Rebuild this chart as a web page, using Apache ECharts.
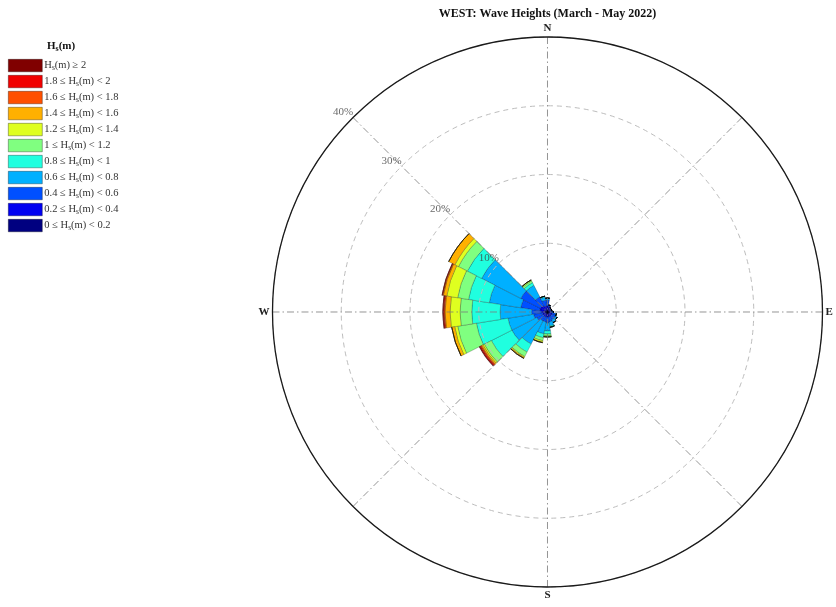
<!DOCTYPE html>
<html>
<head>
<meta charset="utf-8">
<script src="https://cdn.jsdelivr.net/npm/echarts@6/dist/echarts.min.js"></script>
<style>
  html, body { margin: 0; padding: 0; background: #fff; }
  #chart { width: 836px; height: 607px; }
</style>
</head>
<body>
<div id="chart"></div>
<script>
// Direction sectors (degrees, clockwise from north), 18° wide
const directions = [0, 18, 36, 54, 72, 90, 108, 126, 144, 162, 180, 198, 216, 234, 252, 270, 288, 306, 324, 342];

// Wave height classes, lowest first
const binNames = [
  '0 ≤ Hs(m) < 0.2',
  '0.2 ≤ Hs(m) < 0.4',
  '0.4 ≤ Hs(m) < 0.6',
  '0.6 ≤ Hs(m) < 0.8',
  '0.8 ≤ Hs(m) < 1',
  '1 ≤ Hs(m) < 1.2',
  '1.2 ≤ Hs(m) < 1.4',
  '1.4 ≤ Hs(m) < 1.6',
  '1.6 ≤ Hs(m) < 1.8',
  '1.8 ≤ Hs(m) < 2',
  'Hs(m) ≥ 2'
];
const binColors = ['#000080', '#0000F0', '#0050FF', '#00B0FF', '#20FFDF', '#80FF80', '#DFFF20', '#FFB000', '#FF5000', '#F00000', '#800000'];

// Frequency (% of records) per direction for each height class
const hs00_02 = [0.29, 0.29, 0.29, 0.22, 0.22, 0.29, 0.29, 0.29, 0.29, 0.29, 0.29, 0.29, 0.29, 0.29, 0.29, 0.29, 0.44, 0.29, 0.29, 0.29];
const hs02_04 = [0.58, 0.44, 0.29, 0.29, 0.29, 0.29, 0.44, 0.44, 0.44, 0.44, 0.44, 0.44, 0.44, 0.44, 0.44, 0.58, 0.73, 0.87, 0.73, 0.58];
const hs04_06 = [0.87, 0.29, 0.15, 0.15, 0.15, 0.29, 0.44, 0.58, 0.58, 0.73, 0.87, 0.73, 0.73, 1.02, 1.31, 1.45, 2.76, 3.20, 1.45, 0.87];
const hs06_08 = [0.29, 0, 0, 0, 0, 0, 0.15, 0.29, 0.44, 0.58, 1.16, 1.75, 3.78, 4.07, 3.78, 4.58, 4.65, 6.40, 1.89, 0.44];
const hs08_10 = [0, 0, 0, 0, 0, 0, 0, 0, 0, 0.15, 0.44, 0.58, 1.31, 3.35, 4.65, 4.12, 3.05, 2.33, 0.44, 0.15];
const hs10_12 = [0, 0, 0, 0, 0, 0, 0, 0, 0, 0.07, 0.29, 0.44, 0.73, 1.16, 2.76, 1.70, 1.60, 1.45, 0.29, 0];
const hs12_14 = [0, 0, 0, 0, 0, 0, 0, 0, 0, 0, 0.15, 0.22, 0.15, 0.22, 0.44, 1.45, 1.60, 0.58, 0.15, 0];
const hs14_16 = [0, 0, 0, 0, 0, 0, 0, 0, 0, 0, 0, 0.07, 0.15, 0.22, 0.44, 0.73, 0.51, 1.02, 0, 0];
const hs16_18 = [0, 0, 0, 0, 0, 0, 0, 0, 0, 0, 0, 0, 0, 0.15, 0, 0.15, 0.12, 0, 0, 0];
const hs18_20 = [0, 0, 0, 0, 0, 0, 0, 0, 0, 0, 0, 0, 0, 0.15, 0, 0.12, 0.07, 0, 0, 0];
const hs20_up = [0, 0, 0, 0, 0, 0, 0, 0, 0, 0, 0, 0, 0, 0.10, 0, 0.10, 0.03, 0, 0, 0];

const binValues = [hs00_02, hs02_04, hs04_06, hs06_08, hs08_10, hs10_12, hs12_14, hs14_16, hs16_18, hs18_20, hs20_up];

// Radial scale and its labels
const radialTicks = [10, 20, 30, 40];
const compassLabels = { 45: 'N', 135: 'E', 225: 'S', 315: 'W' };

const serif = '"Liberation Serif", "DejaVu Serif", serif';
const center = ['65.49%', '51.4%'];
const radius = 275;

const chart = echarts.init(document.getElementById('chart'), null, { renderer: 'canvas' });

function richName(name) {
  const parts = name.split('Hs');
  let s = '';
  if (parts[0]) s += '{a|' + parts[0] + '}';
  s += '{a|H}{s|s}{a|' + parts[1] + '}';
  return s;
}

const barSeries = binNames.map((name, i) => ({
  name: name,
  type: 'bar',
  coordinateSystem: 'polar',
  polarIndex: 0,
  stack: 'rose',
  barCategoryGap: '0%',
  barGap: '0%',
  z: 2,
  itemStyle: {
    color: binColors[i],
    borderColor: 'rgba(0,0,0,0.45)',
    borderWidth: 0.5
  },
  emphasis: { disabled: true },
  data: binValues[i]
}));

const option = {
  animation: false,
  backgroundColor: '#ffffff',
  title: [
    {
      text: 'WEST: Wave Heights (March - May 2022)',
      left: '65.5%',
      top: 8,
      padding: 0,
      textAlign: 'center',
      textStyle: { fontFamily: serif, fontSize: 12, fontWeight: 'bold', color: '#111' }
    },
    {
      text: '{b|H}{sb|s}{b|(m)}',
      left: 47,
      top: 39,
      padding: 0,
      textStyle: {
        rich: {
          b: { fontFamily: serif, fontSize: 11, fontWeight: 'bold', color: '#111', lineHeight: 14, verticalAlign: 'middle' },
          sb: { fontFamily: serif, fontSize: 8, fontWeight: 'bold', color: '#111', lineHeight: 6, verticalAlign: 'bottom' }
        }
      }
    }
  ],
  legend: {
    orient: 'vertical',
    left: 8,
    top: 59,
    padding: 0,
    itemWidth: 34,
    itemHeight: 12.5,
    itemGap: 2.9,
    icon: 'rect',
    selectedMode: false,
    data: binNames.slice().reverse(),
    formatter: richName,
    itemStyle: { borderColor: 'rgba(0,0,0,0.55)', borderWidth: 0.6 },
    textStyle: {
      padding: [0, 0, 0, -3],
      rich: {
        a: { fontFamily: serif, fontSize: 10.5, color: '#333', lineHeight: 12, verticalAlign: 'middle' },
        s: { fontFamily: serif, fontSize: 7.5, color: '#333', lineHeight: 5, verticalAlign: 'bottom' }
      }
    }
  },
  polar: [
    { center: center, radius: radius },
    { center: center, radius: radius }
  ],
  angleAxis: [
    {
      polarIndex: 0,
      type: 'category',
      data: directions,
      startAngle: 99,
      clockwise: true,
      boundaryGap: true,
      axisLine: { show: false },
      axisTick: { show: false },
      axisLabel: { show: false },
      splitLine: { show: false }
    },
    {
      polarIndex: 1,
      type: 'value',
      min: 0,
      max: 360,
      interval: 45,
      startAngle: 135,
      clockwise: true,
      z: 6,
      axisLine: { show: true, lineStyle: { color: '#1a1a1a', width: 1.3 } },
      axisTick: { show: false },
      axisLabel: {
        show: true,
        margin: 3,
        fontFamily: serif,
        fontSize: 11,
        fontWeight: 'bold',
        color: '#222',
        formatter: v => compassLabels[v] || ''
      },
      splitLine: { show: true, lineStyle: { color: '#7a7a7a', width: 0.8, type: [7, 3, 1.5, 3] } }
    }
  ],
  radiusAxis: [
    {
      polarIndex: 0,
      type: 'value',
      min: 0,
      max: 40,
      interval: 10,
      axisLine: { show: false },
      axisTick: { show: false },
      axisLabel: { show: false },
      splitLine: { show: false }
    },
    {
      polarIndex: 1,
      type: 'value',
      min: 0,
      max: 40,
      interval: 10,
      z: 5,
      axisLine: { show: false },
      axisTick: { show: false },
      axisLabel: { show: false },
      splitLine: { show: true, lineStyle: { color: '#bdbdbd', width: 1, type: [5, 4] } }
    }
  ],
  series: barSeries.concat([
    {
      type: 'scatter',
      coordinateSystem: 'polar',
      polarIndex: 1,
      symbolSize: 0,
      z: 7,
      silent: true,
      label: {
        show: true,
        position: [0, 0],
        align: 'right',
        verticalAlign: 'bottom',
        fontFamily: serif,
        fontSize: 11,
        color: '#444',
        formatter: p => p.value[0] + '%'
      },
      data: radialTicks.map(r => [r, 0])
    }
  ])
};

chart.setOption(option);
</script>
</body>
</html>
